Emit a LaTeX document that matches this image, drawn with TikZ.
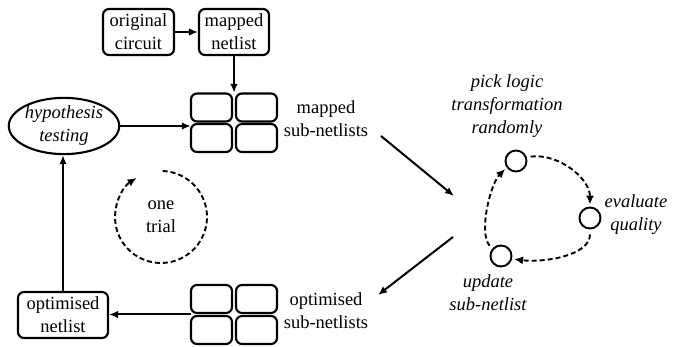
\documentclass[tikz,border=0pt]{standalone}
\usepackage{fontspec}
\setmainfont{Liberation Serif}
\usetikzlibrary{arrows.meta,shapes.geometric,calc}

\begin{document}
\begin{tikzpicture}[x=1pt,y=-1pt,
  font=\fontsize{18.5}{23}\selectfont,
  every node/.style={inner sep=0pt, align=center},
  rbox/.style={draw, line width=2.1pt, rounded corners=6pt},
  cell/.style={draw, line width=2.1pt, rounded corners=6pt,
    minimum width=41pt, minimum height=28pt},
  grid/.style={minimum width=86pt, minimum height=59pt},
  dot/.style={draw, circle, line width=1.9pt, minimum size=21pt},
  flow/.style={line width=2pt, -{Latex[length=9pt,width=7.5pt]}},
  loopline/.style={line width=1.9pt, dash pattern=on 5pt off 3pt,
    -{Latex[length=9pt,width=8pt]}}]

\useasboundingbox (0,0) rectangle (694,347);

% input circuit and its mapping
\node[rbox, minimum width=71pt, minimum height=46pt] (orig) at (138.5,32) {original\\circuit};
\node[rbox, minimum width=70pt, minimum height=46pt] (mnet) at (234,32) {mapped\\netlist};

% grid of mapped sub-netlists
\node[grid] (mgrid) at (234,122.5) {};
\foreach \dx/\dy/\n in {-22.5/-15/1, 22.5/-15/2, -22.5/15.5/3, 22.5/15.5/4}
  \node[cell] (mg\n) at ($(mgrid)+(\dx,\dy)$) {};
\node (mlab) at (326,119) {mapped\\sub-netlists};

% grid of optimised sub-netlists
\node[grid] (ogrid) at (234,314.5) {};
\foreach \dx/\dy/\n in {-22.5/-15.5/1, 22.5/-15.5/2, -22.5/15.5/3, 22.5/15.5/4}
  \node[cell] (og\n) at ($(ogrid)+(\dx,\dy)$) {};
\node (olab) at (326,311) {optimised\\sub-netlists};

% hypothesis testing and final netlist
\node[draw, ellipse, line width=2.1pt, minimum width=102pt, minimum height=52pt,
  font=\fontsize{18.5}{23}\selectfont\itshape] (hyp) at (64,126) {hypothesis\\testing};
\node[rbox, minimum width=90pt, minimum height=46pt] (onet) at (63,315) {optimised\\netlist};

% main flow
\draw[flow] (orig.east) -- (mnet.west);
\draw[flow] (mnet.south) -- (mnet.south |- mgrid.north);
\draw[flow] (hyp.east) -- (hyp.east -| mgrid.west);
\draw[flow] (ogrid.west) -- (ogrid.west -| onet.east);
\draw[flow] (onet.north) -- (onet.north |- hyp.south);

% one trial loop
\node (trial) at (161,217) {one\\trial};
\draw[loopline] (trial) ++(-88:46) arc[start angle=-88, end angle=238, radius=46];

% optimisation loop on a sub-netlist
\coordinate (in1) at (381,136);
\coordinate (in2) at (454,196);
\coordinate (out1) at (453,237);
\coordinate (out2) at (378,295);
\draw[flow] (in1) -- (in2);
\draw[flow] (out1) -- (out2);

\node[dot] (pick) at (516,161) {};
\node[dot] (eval) at (590,218) {};
\node[dot] (upd) at (501,256) {};

\node[font=\fontsize{18.5}{23}\selectfont\itshape] (pickl) at (507,106) {pick logic\\transformation\\randomly};
\node[font=\fontsize{18.5}{23}\selectfont\itshape] (evall) at (636,215) {evaluate\\quality};
\node[font=\fontsize{18.5}{23}\selectfont\itshape] (updl) at (488,293) {update\\sub-netlist};

\draw[loopline, shorten <=4pt, shorten >=2pt] (pick.20) .. controls +(32,-4) and +(0,-28) .. (eval.north);
\draw[loopline, shorten <=5pt, shorten >=2pt] (eval.south) .. controls +(0,26) and +(32,4) .. (upd.-15);
\draw[loopline, shorten <=4pt, shorten >=2pt] (upd.140) .. controls +(-14,-16) and +(-16,16) .. (pick.215);

\end{tikzpicture}
\end{document}
